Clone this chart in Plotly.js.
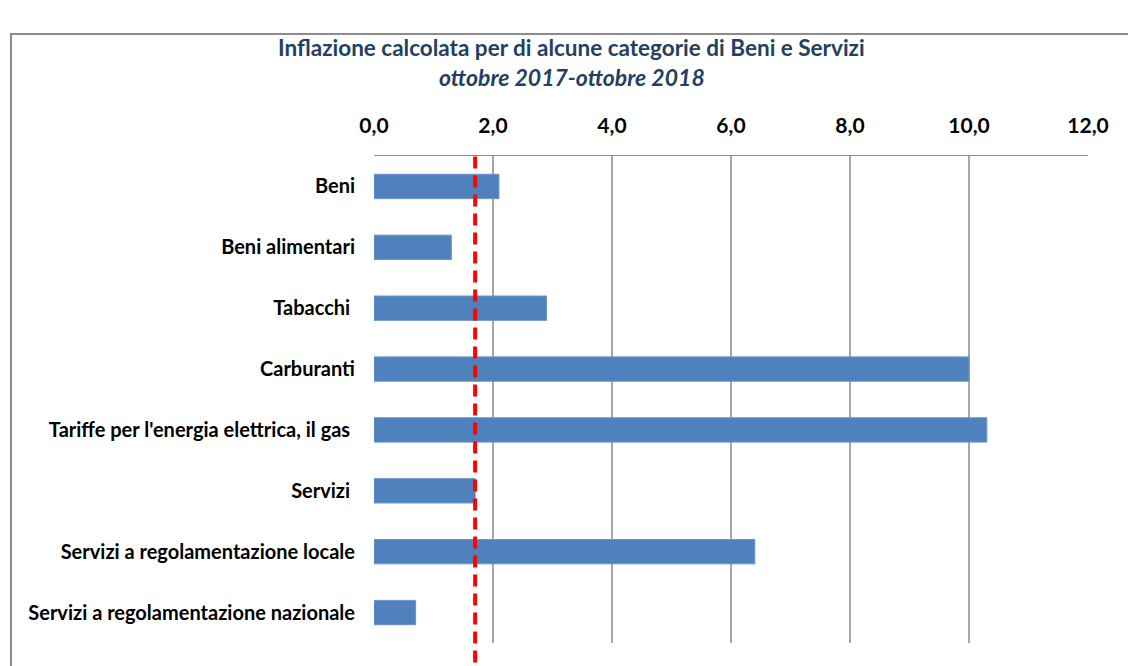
<!DOCTYPE html>
<html>
<head>
<meta charset="utf-8">
<script src="https://cdn.plot.ly/plotly-3.0.1.min.js"></script>
<style>
  html, body { margin: 0; padding: 0; background: #fff; overflow: hidden; }
  #chart { width: 1128px; height: 666px; position: absolute; left: 0; top: 0; }
  #frame { position: absolute; left: 10px; top: 33px; width: 1200px; height: 700px;
           border: 2px solid #8c8c8c; pointer-events: none; box-sizing: border-box; }
</style>
</head>
<body>
<div id="chart"></div>
<div id="frame"></div>
<script>
const categories = [
  "Beni",
  "Beni alimentari",
  "Tabacchi\u00a0",
  "Carburanti",
  "Tariffe per l'energia elettrica, il gas\u00a0",
  "Servizi\u00a0",
  "Servizi a regolamentazione locale",
  "Servizi a regolamentazione nazionale"
];
const values = [2.1, 1.3, 2.9, 10.0, 10.3, 1.7, 6.4, 0.7];
const referenceInflation = 1.7;
const xTickValues = [0, 2, 4, 6, 8, 10, 12];
const titleLine1 = "Inflazione calcolata per di alcune categorie di Beni e Servizi";
const titleLine2 = "ottobre 2017-ottobre 2018";

const font = "Lato, 'Liberation Sans', Arial, sans-serif";
const titleColor = '#243F60';

const trace = {
  type: 'bar',
  orientation: 'h',
  y: categories,
  x: values,
  marker: { color: '#4F81BD', line: { color: '#6A94C8', width: 1 } },
  hoverinfo: 'x+y'
};

const layout = {
  width: 1128,
  height: 666,
  margin: { l: 374, r: 40, t: 156, b: 23 },
  paper_bgcolor: '#ffffff',
  plot_bgcolor: '#ffffff',
  separators: ',.',
  showlegend: false,
  bargap: 0.6,
  annotations: [
    { text: '<b>' + titleLine1 + '</b>', xref: 'paper', yref: 'paper',
      x: 0.277, y: 1.2238, xanchor: 'center', yanchor: 'middle', showarrow: false,
      font: { family: font, size: 22.5, color: titleColor } },
    { text: '<b><i>' + titleLine2 + '</i></b>', xref: 'paper', yref: 'paper',
      x: 0.277, y: 1.1622, xanchor: 'center', yanchor: 'middle', showarrow: false,
      font: { family: font, size: 23, color: titleColor } }
  ],
  xaxis: {
    side: 'top',
    range: [0, 12],
    tickvals: xTickValues,
    tickformat: '.1f',
    showgrid: true,
    gridcolor: '#a6a6a6',
    gridwidth: 1.5,
    showline: true,
    linecolor: '#8c8c8c',
    linewidth: 1.5,
    zeroline: false,
    ticks: '',
    ticklabelstandoff: 13,
    tickfont: { family: font, size: 21, color: '#000000', weight: 'bold' },
    fixedrange: true
  },
  yaxis: {
    autorange: 'reversed',
    showgrid: false,
    zeroline: false,
    showline: false,
    ticks: '',
    ticklabelstandoff: 18,
    tickfont: { family: font, size: 20, color: '#000000', weight: 'bold' },
    fixedrange: true
  },
  shapes: [{
    type: 'line',
    xref: 'x', yref: 'paper',
    x0: referenceInflation, x1: referenceInflation,
    y0: -0.04, y1: 1.013,
    line: { color: '#FF0000', width: 4, dash: '12px,7px' },
    layer: 'above'
  }]
};

Plotly.newPlot('chart', [trace], layout, { displayModeBar: false, staticPlot: true });
</script>
</body>
</html>
